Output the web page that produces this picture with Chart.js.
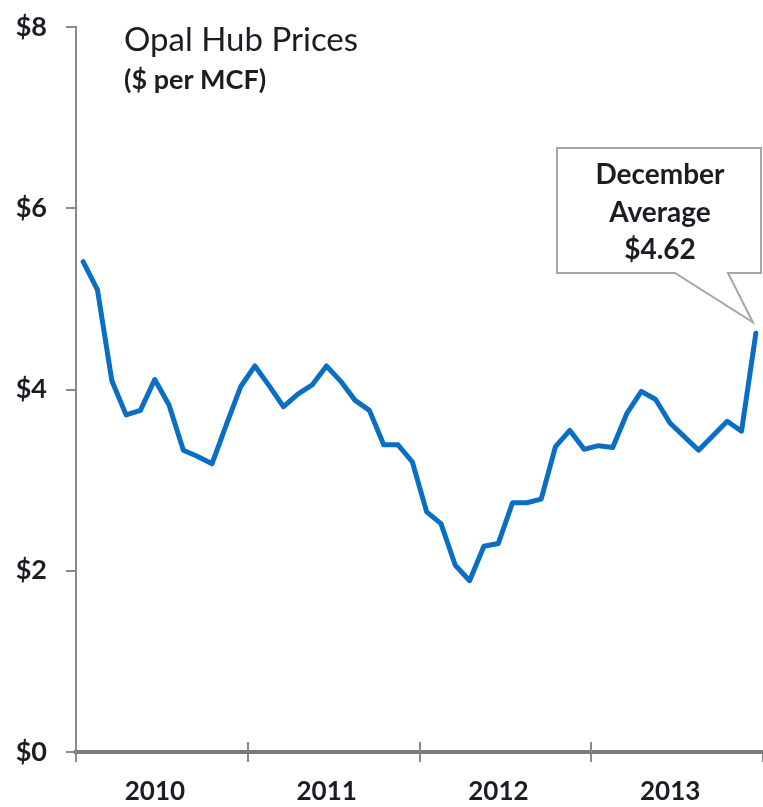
<!DOCTYPE html>
<html>
<head>
<meta charset="utf-8">
<script src="https://cdn.jsdelivr.net/npm/chart.js@4.4.1/dist/chart.umd.min.js"></script>
<style>
html,body{margin:0;padding:0;background:#fff;}
#wrap{position:relative;width:763px;height:807px;}
</style>
</head>
<body>
<div id="wrap"><canvas id="c" width="763" height="807"></canvas></div>
<script>
const years = ['2010', '2011', '2012', '2013'];
const months = ['Jan','Feb','Mar','Apr','May','Jun','Jul','Aug','Sep','Oct','Nov','Dec'];
const prices2010 = [5.41, 5.10, 4.10, 3.72, 3.77, 4.11, 3.83, 3.33, 3.26, 3.18, 3.61, 4.03];
const prices2011 = [4.26, 4.04, 3.81, 3.95, 4.05, 4.26, 4.09, 3.88, 3.77, 3.39, 3.39, 3.20];
const prices2012 = [2.65, 2.52, 2.06, 1.89, 2.27, 2.30, 2.75, 2.75, 2.79, 3.37, 3.55, 3.34];
const prices2013 = [3.38, 3.36, 3.74, 3.98, 3.89, 3.63, 3.48, 3.33, 3.49, 3.65, 3.54, 4.62];
const yTicks = [0, 2, 4, 6, 8];
const titleText = 'Opal Hub Prices';
const subtitleText = '($ per MCF)';
const calloutLines = ['December', 'Average', '$4.62'];

const monthLabels = [];
years.forEach(y => months.forEach(m => monthLabels.push(m + ' ' + y)));
const prices = [].concat(prices2010, prices2011, prices2012, prices2013);

const FONT = 'Lato, "Open Sans", sans-serif';
const TXT = '#1c1c24';
const AXIS = '#8a8a8a';

const extras = {
  id: 'extras',
  afterDraw(chart) {
    const ctx = chart.ctx;
    const x2 = chart.scales.x2;
    const area = chart.chartArea;
    ctx.save();
    ctx.strokeStyle = AXIS;
    ctx.lineWidth = 2;
    const w = (x2.right - x2.left) / years.length;
    for (let i = 1; i < years.length; i++) {
      const px = Math.round(x2.getPixelForValue(i) - w / 2);
      ctx.beginPath();
      ctx.moveTo(px, area.bottom - 10);
      ctx.lineTo(px, area.bottom);
      ctx.stroke();
    }
    // year labels (slightly left of centre, as in the original)
    ctx.fillStyle = TXT;
    ctx.textAlign = 'center';
    ctx.textBaseline = 'middle';
    ctx.font = 'bold 26px ' + FONT;
    years.forEach((y, i) => ctx.fillText(y, x2.getPixelForValue(i) - 7, 792));
    // title
    ctx.textAlign = 'left';
    ctx.font = '33px ' + FONT;
    ctx.fillText(titleText, 124, 40);
    ctx.font = 'bold 27px ' + FONT;
    ctx.fillText(subtitleText, 124, 80);
    // callout
    const meta = chart.getDatasetMeta(0);
    const last = meta.data[meta.data.length - 1];
    const tipX = last.x - 3, tipY = last.y - 11;
    const bx = 557, by = 148, bw = 204, bh = 125;
    ctx.beginPath();
    ctx.moveTo(bx, by);
    ctx.lineTo(bx + bw, by);
    ctx.lineTo(bx + bw, by + bh);
    ctx.lineTo(728, by + bh);
    ctx.lineTo(tipX, tipY);
    ctx.lineTo(675, by + bh);
    ctx.lineTo(bx, by + bh);
    ctx.closePath();
    ctx.fillStyle = '#ffffff';
    ctx.fill();
    ctx.strokeStyle = '#a6a6a6';
    ctx.lineWidth = 2;
    ctx.stroke();
    ctx.fillStyle = TXT;
    ctx.textAlign = 'center';
    ctx.font = 'bold 28px ' + FONT;
    calloutLines.forEach((t, i) => ctx.fillText(t, bx + bw / 2 + 1, 175 + i * 37.5));
    ctx.restore();
  }
};

new Chart(document.getElementById('c'), {
  type: 'line',
  data: {
    labels: monthLabels,
    datasets: [{
      data: prices,
      borderColor: '#0a6fc2',
      borderWidth: 5,
      pointRadius: 0,
      tension: 0,
      fill: false,
      borderJoinStyle: 'round',
      borderCapStyle: 'round'
    }]
  },
  options: {
    responsive: false,
    animation: false,
    layout: { padding: { top: 27, right: 0, bottom: 0, left: 0 } },
    plugins: { legend: { display: false }, tooltip: { enabled: false }, title: { display: false } },
    scales: {
      x: {
        type: 'category',
        display: false,
        offset: true
      },
      x2: {
        type: 'category',
        labels: years,
        position: 'bottom',
        offset: true,
        grid: { offset: true, drawOnChartArea: false, drawTicks: true, tickLength: 10, color: AXIS, lineWidth: 2 },
        border: { display: true, color: '#7a7a7a', width: 4 },
        ticks: { display: false },
        afterFit(s) { s.height = 55; s.paddingLeft = 0; s.paddingRight = 0; }
      },
      y: {
        min: 0,
        max: 8,
        afterBuildTicks(s) { s.ticks = yTicks.map(v => ({ value: v })); },
        grid: { drawOnChartArea: false, drawTicks: true, tickLength: 10, color: AXIS, lineWidth: 2 },
        border: { display: true, color: AXIS, width: 2 },
        ticks: { color: TXT, font: { family: FONT, size: 27, weight: 'bold' }, padding: 19, callback: v => '$' + v },
        afterFit(s) { s.width = 76; s.paddingTop = 0; s.paddingBottom = 0; }
      }
    }
  },
  plugins: [extras]
});
</script>
</body>
</html>
